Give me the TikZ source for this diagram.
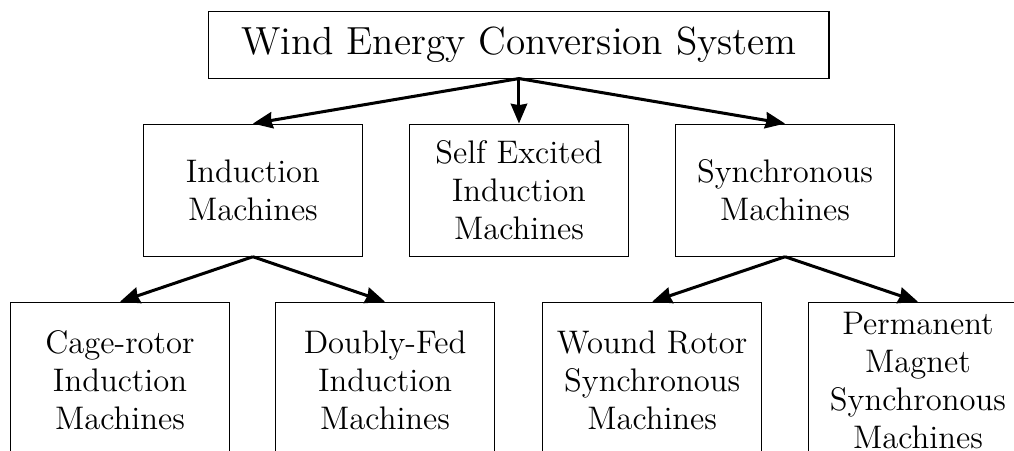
\documentclass[tikz,border=0pt]{standalone}
\usepackage{tikz}
\usetikzlibrary{positioning, arrows.meta}
\tikzstyle{topbox} = [rectangle, minimum width=235.6pt, minimum height=25.1pt, text centered, draw=black, font=\fontsize{14.9}{18}\selectfont]
\tikzstyle{machine} = [rectangle, minimum width=83.2pt, minimum height=50.2pt, align=center, draw=black, font=\fontsize{12.4}{14.5}\selectfont]
\tikzstyle{subtype} = [rectangle, minimum width=83.2pt, minimum height=59.3pt, align=center, draw=black, font=\fontsize{12.4}{14.5}\selectfont]
\tikzstyle{arrow} = [line width=1.15pt,->,>={Stealth[length=7.5pt,width=6.2pt,inset=0.5pt]}]

\begin{document}
\begin{tikzpicture}[node distance=17.1pt]
	\useasboundingbox (0,0) rectangle (385.3pt,-171pt);
	\clip (0,0) rectangle (385.3pt,-171pt);

	\node (wecs) [topbox] at (197.2pt,-17.1pt) {Wind Energy Conversion System};
	\node (seig) [machine, below=of wecs] {Self Excited\\Induction\\Machines};
	\node (im) [machine, left=17.5pt of seig] {Induction\\Machines};
	\node (sm) [machine, right=17.5pt of seig] {Synchronous\\Machines};
	\node (scig) [subtype, below=of im, xshift=-50.5pt] {Cage-rotor\\Induction\\Machines};
	\node (dfig) [subtype, below=of im, xshift=50.2pt] {Doubly-Fed\\Induction\\Machines};
	\node (wrsm) [subtype, below=of sm, xshift=-50.5pt] {Wound Rotor\\Synchronous\\Machines};
	\node (pmsm) [subtype, below=of sm, xshift=50.5pt] {Permanent\\Magnet\\Synchronous\\Machines};

	\draw [arrow] (wecs.south) -- (im.north);
	\draw [arrow] (wecs.south) -- (seig.north);
	\draw [arrow] (wecs.south) -- (sm.north);
	\draw [arrow] (im.south) -- (scig.north);
	\draw [arrow] (im.south) -- (dfig.north);
	\draw [arrow] (sm.south) -- (wrsm.north);
	\draw [arrow] (sm.south) -- (pmsm.north);

\end{tikzpicture}
\end{document}
